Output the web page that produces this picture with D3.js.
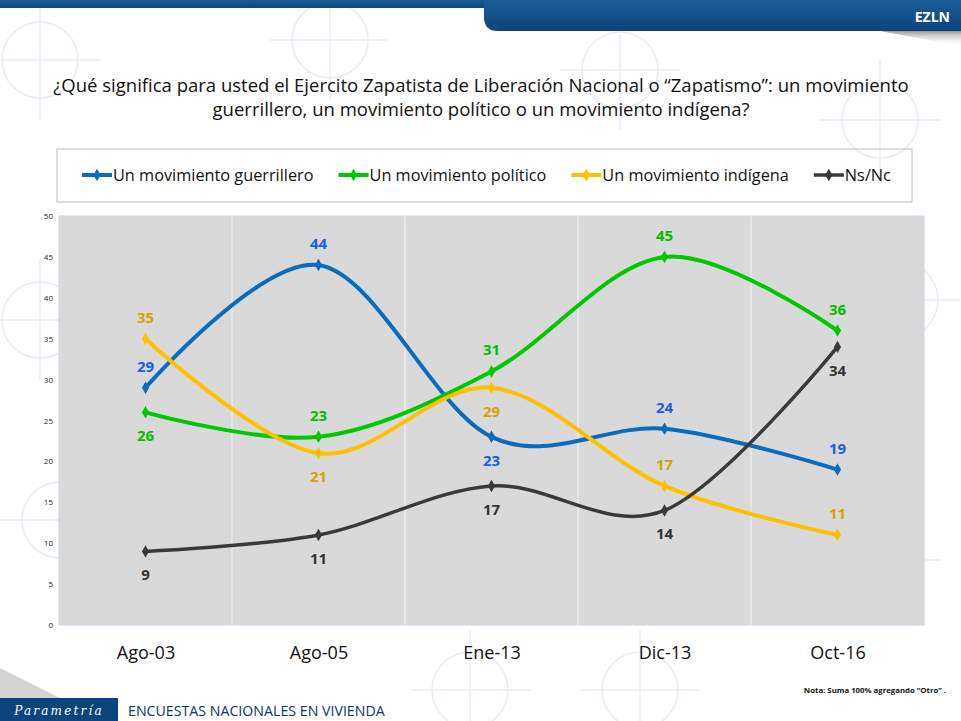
<!DOCTYPE html>
<html>
<head>
<meta charset="utf-8">
<script src="https://cdn.jsdelivr.net/npm/d3@7"></script>
<style>
  body { margin: 0; background: #fff; }
  svg { display: block; }
</style>
</head>
<body>
<script>
// datos del grafico
var periodos = ['Ago-03', 'Ago-05', 'Ene-13', 'Dic-13', 'Oct-16'];
var guerrillero = [29, 44, 23, 24, 19];
var politico = [26, 23, 31, 45, 36];
var indigena = [35, 21, 29, 17, 11];
var nsnc = [9, 11, 17, 14, 34];
var ticksY = [0, 5, 10, 15, 20, 25, 30, 35, 40, 45, 50];

// donde va la etiqueta de cada punto: 1 arriba, -1 abajo
var posGuerrillero = [1, 1, -1, 1, 1];
var posPolitico = [-1, 1, 1, 1, 1];
var posIndigena = [1, -1, -1, 1, 1];
var posNsnc = [-1, -1, -1, -1, -1];

var series = [
  {name: 'Un movimiento guerrillero', values: guerrillero, pos: posGuerrillero, color: '#0a6cbc', label: '#1a5ee8', w: 4},
  {name: 'Un movimiento político', values: politico, pos: posPolitico, color: '#00c800', label: '#00bf00', w: 4},
  {name: 'Un movimiento indígena', values: indigena, pos: posIndigena, color: '#ffc000', label: '#d9a100', w: 4},
  {name: 'Ns/Nc', values: nsnc, pos: posNsnc, color: '#3a3a3a', label: '#333333', w: 3.5}
];

var W = 961, H = 721;
var font = 'Open Sans, sans-serif';

var svg = d3.select('body').append('svg')
  .attr('width', W)
  .attr('height', H);

// fondo con trazos tenues
var bg = svg.append('g').attr('stroke', '#e8edf4').attr('fill', 'none').attr('stroke-width', 1.5);
[[40, 60], [330, 40], [620, 70], [880, 120], [40, 320], [900, 300], [60, 520], [470, 690], [880, 560], [640, 690]].forEach(function(p){
  bg.append('circle').attr('cx', p[0]).attr('cy', p[1]).attr('r', 38);
  bg.append('line').attr('x1', p[0] - 60).attr('x2', p[0] + 60).attr('y1', p[1]).attr('y2', p[1]);
  bg.append('line').attr('x1', p[0]).attr('x2', p[0]).attr('y1', p[1] - 60).attr('y2', p[1] + 60);
});

// barra superior
var defs = svg.append('defs');
var topGrad = defs.append('linearGradient').attr('id', 'tg').attr('x1', 0).attr('x2', 0).attr('y1', 0).attr('y2', 1);
topGrad.append('stop').attr('offset', '0%').attr('stop-color', '#1c5c96');
topGrad.append('stop').attr('offset', '100%').attr('stop-color', '#0b457c');
var shGrad = defs.append('linearGradient').attr('id', 'sh').attr('x1', 0).attr('x2', 0).attr('y1', 0).attr('y2', 1);
shGrad.append('stop').attr('offset', '0%').attr('stop-color', '#9a9a9a');
shGrad.append('stop').attr('offset', '100%').attr('stop-color', '#ffffff').attr('stop-opacity', 0);

svg.append('path').attr('d', 'M880,31 H961 V46 Z').attr('fill', 'url(#sh)');
svg.append('path').attr('d', 'M0,668 L60,698 H0 Z').attr('fill', '#b8b8b8').attr('opacity', 0.6);

svg.append('rect').attr('x', 0).attr('y', 0).attr('width', W).attr('height', 8).attr('fill', 'url(#tg)');
svg.append('path')
  .attr('d', 'M484,0 H961 V31 H498 Q484,31 484,17 Z')
  .attr('fill', 'url(#tg)');
svg.append('text')
  .attr('x', 950).attr('y', 22)
  .attr('text-anchor', 'end')
  .attr('font-family', font).attr('font-size', 14).attr('font-weight', 'bold')
  .attr('fill', '#fff')
  .text('EZLN');

// titulo
var title = svg.append('text')
  .attr('text-anchor', 'middle')
  .attr('font-family', font).attr('font-size', 18.5)
  .attr('fill', '#111');
title.append('tspan').attr('x', 481).attr('y', 92)
  .text('¿Qué significa para usted el Ejercito Zapatista de Liberación Nacional o “Zapatismo”: un movimiento');
title.append('tspan').attr('x', 481).attr('y', 116)
  .text('guerrillero, un movimiento político o un movimiento indígena?');

// escalas
var x = d3.scalePoint().domain(periodos).range([59, 924]).padding(0.5);
var y = d3.scaleLinear().domain([0, 50]).range([625, 216]);
var step = x.step();

// area del grafico
svg.append('rect')
  .attr('x', 59).attr('y', 216)
  .attr('width', 865).attr('height', 409)
  .attr('fill', '#d9d9d9')
  .attr('stroke', '#c9d6e6');

svg.append('g').selectAll('line')
  .data(periodos.slice(1))
  .enter()
  .append('line')
  .attr('x1', function(d){ return x(d) - step / 2; })
  .attr('x2', function(d){ return x(d) - step / 2; })
  .attr('y1', 216).attr('y2', 625)
  .attr('stroke', '#f4f4f4').attr('stroke-width', 1);

// eje y
var yAxis = svg.append('g')
  .attr('transform', 'translate(59,0)')
  .call(d3.axisLeft(y).tickValues(ticksY).tickSize(0).tickPadding(6));
yAxis.select('.domain').remove();
yAxis.selectAll('text').attr('font-family', font).attr('font-size', 8).attr('fill', '#222');

// eje x
var xAxis = svg.append('g')
  .attr('transform', 'translate(0,625)')
  .call(d3.axisBottom(x).tickSize(0).tickPadding(21));
xAxis.select('.domain').remove();
xAxis.selectAll('text').attr('font-family', font).attr('font-size', 18).attr('fill', '#111');

// lineas
var line = d3.line()
  .x(function(d, i){ return x(periodos[i]); })
  .y(function(d){ return y(d); })
  .curve(d3.curveCardinal.tension(0));

var diamond = d3.symbol().type(d3.symbolDiamond).size(45);

series.forEach(function(s){
  var g = svg.append('g');
  g.append('path')
    .datum(s.values)
    .attr('d', line)
    .attr('fill', 'none')
    .attr('stroke', s.color)
    .attr('stroke-width', s.w)
    .attr('stroke-linecap', 'round');
  g.selectAll('path.m')
    .data(s.values)
    .enter()
    .append('path')
    .attr('class', 'm')
    .attr('d', diamond)
    .attr('transform', function(d, i){ return 'translate(' + x(periodos[i]) + ',' + y(d) + ')'; })
    .attr('fill', s.color);
});

// etiquetas de datos
series.forEach(function(s){
  svg.append('g').selectAll('text')
    .data(s.values)
    .enter()
    .append('text')
    .attr('x', function(d, i){ return x(periodos[i]); })
    .attr('y', function(d, i){ return y(d) + (s.pos[i] > 0 ? -16 : 29); })
    .attr('text-anchor', 'middle')
    .attr('font-family', font).attr('font-size', 15).attr('font-weight', 'bold')
    .attr('fill', s.label)
    .text(function(d){ return d; });
});

// leyenda
svg.append('rect')
  .attr('x', 57).attr('y', 149)
  .attr('width', 855).attr('height', 53)
  .attr('fill', 'none')
  .attr('stroke', '#bcbcbc');

var lx = 82;
series.forEach(function(s){
  var g = svg.append('g').attr('transform', 'translate(' + lx + ',175)');
  g.append('line').attr('x1', 0).attr('x2', 30).attr('y1', 0).attr('y2', 0)
    .attr('stroke', s.color).attr('stroke-width', s.w);
  g.append('path').attr('d', diamond).attr('transform', 'translate(15,0)').attr('fill', s.color);
  var t = g.append('text')
    .attr('x', 31).attr('y', 6)
    .attr('font-family', font).attr('font-size', 16.3)
    .attr('fill', '#111')
    .text(s.name);
  lx += 31 + t.node().getComputedTextLength() + 25;
});

// pie
svg.append('text')
  .attr('x', 946).attr('y', 693)
  .attr('text-anchor', 'end')
  .attr('font-family', font).attr('font-size', 7.8).attr('font-weight', 'bold')
  .attr('fill', '#111')
  .text('Nota: Suma 100%  agregando “Otro” .');

svg.append('rect').attr('x', 0).attr('y', 698).attr('width', 118).attr('height', 23).attr('fill', '#0b457c');
svg.append('text')
  .attr('x', 59).attr('y', 715)
  .attr('text-anchor', 'middle')
  .attr('font-family', 'DejaVu Serif, serif').attr('font-style', 'italic')
  .attr('font-size', 12).attr('letter-spacing', 2.2)
  .attr('fill', '#fff')
  .text('Parametría');
svg.append('text')
  .attr('x', 128).attr('y', 716)
  .attr('font-family', font).attr('font-size', 14.2)
  .attr('fill', '#0d3566')
  .text('ENCUESTAS NACIONALES EN VIVIENDA');
</script>
</body>
</html>
